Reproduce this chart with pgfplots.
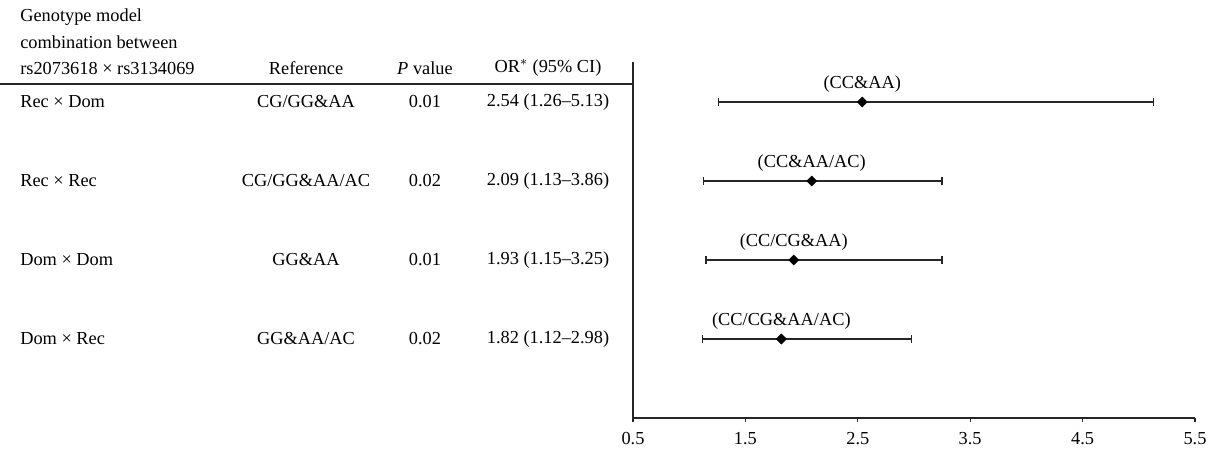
\documentclass[border=0pt]{standalone}
\usepackage{fontspec}
\setmainfont{Liberation Serif}
\usepackage{pgfplots}
\usepackage{pgfplotstable}
\pgfplotsset{compat=1.18}
\pgfplotstableread{
x y em ep lab
2.54 4 1.28 2.59 (CC\&AA)
2.09 3 0.96 1.16 (CC\&AA/AC)
1.93 2 0.78 1.32 (CC/CG\&AA)
1.82 1 0.70 1.16 (CC/CG\&AA/AC)
}\ordata
\colorlet{lc}{black!85}
\begin{document}
\fontsize{11}{13}\selectfont
\begin{tikzpicture}
\begin{axis}[
  scale only axis, width=337.2pt, height=213.3pt,
  xmin=0.5, xmax=5.5, ymin=0, ymax=4.5,
  axis lines=left, axis line style={-, line width=0.7pt, lc},
  xtick={0.5,1.5,2.5,3.5,4.5,5.5},
  xticklabels={0.5,1.5,2.5,3.5,4.5,5.5},
  ytick=\empty,
  tick align=outside, major tick length=2.5pt,
  xtick style={lc, line width=0.7pt},
  clip=false,
  ticklabel style={font=\fontsize{11}{13}\selectfont},
  xticklabel style={yshift=-2.5pt},
  /pgf/number format/assume math mode=true,
  every node/.append style={font=\fontsize{11}{13}\selectfont},
]
\addplot[only marks, mark=square*, mark size=2.1pt, black,
  mark options={rotate=45},
  error bars/.cd, x dir=both, x explicit,
  error bar style={line width=0.75pt, lc},
  error mark options={rotate=90, mark size=2.2pt, line width=0.75pt, lc}]
  table[x=x, y=y, x error plus=ep, x error minus=em] {\ordata};
\addplot[only marks, mark=none, point meta=explicit symbolic,
  nodes near coords, nodes near coords align={above},
  every node near coord/.append style={yshift=2pt, black, font=\fontsize{11}{13}\selectfont}]
  table[x=x, y=y, meta=lab] {\ordata};
% table text
\begin{scope}[every node/.append style={inner sep=0pt}]
\node[anchor=west] at (axis cs:-4.954,5.076) {Genotype model};
\node[anchor=west] at (axis cs:-4.954,4.759) {combination between};
\node[anchor=west] at (axis cs:-4.954,4.430) {rs2073618 × rs3134069};
\node at (axis cs:-2.409,4.430) {Reference};
\node at (axis cs:-1.351,4.430) {\textit{P} value};
\node at (axis cs:-0.256,4.430) {OR$^{*}$ (95\% CI)};
\node[anchor=west] at (axis cs:-4.954,4) {Rec × Dom};
\node[anchor=west] at (axis cs:-4.954,3) {Rec × Rec};
\node[anchor=west] at (axis cs:-4.954,2) {Dom × Dom};
\node[anchor=west] at (axis cs:-4.954,1) {Dom × Rec};
\node at (axis cs:-2.409,4) {CG/GG\&AA};
\node at (axis cs:-2.409,3) {CG/GG\&AA/AC};
\node at (axis cs:-2.409,2) {GG\&AA};
\node at (axis cs:-2.409,1) {GG\&AA/AC};
\node at (axis cs:-1.351,4) {0.01};
\node at (axis cs:-1.351,3) {0.02};
\node at (axis cs:-1.351,2) {0.01};
\node at (axis cs:-1.351,1) {0.02};
\node at (axis cs:-0.256,4) {2.54 (1.26--5.13)};
\node at (axis cs:-0.256,3) {2.09 (1.13--3.86)};
\node at (axis cs:-0.256,2) {1.93 (1.15--3.25)};
\node at (axis cs:-0.256,1) {1.82 (1.12--2.98)};
\end{scope}
\draw[line width=0.7pt, lc] (axis cs:-5.132,4.228) -- (axis cs:0.5,4.228);
\coordinate (bbl) at (axis cs:-5.132,-0.418);
\coordinate (bbr) at (axis cs:5.669,5.291);
\end{axis}
\pgfresetboundingbox
\useasboundingbox (bbl) rectangle (bbr);
\end{tikzpicture}
\end{document}
